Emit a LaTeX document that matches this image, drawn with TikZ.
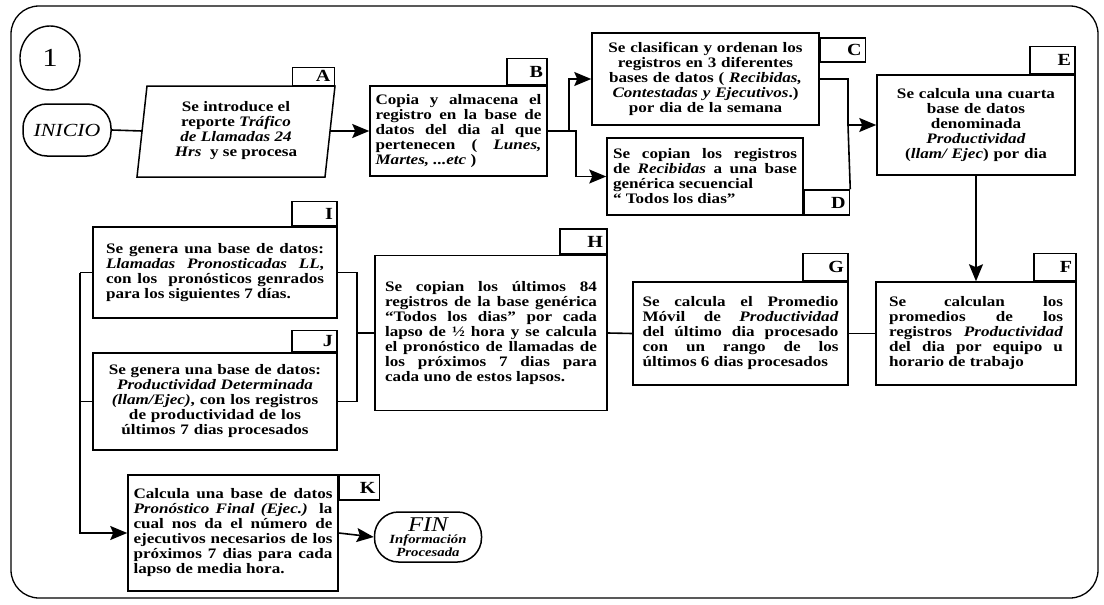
\documentclass[tikz,border=0pt]{standalone}
\usepackage{fontspec}
\setmainfont{Liberation Serif}[FakeStretch=1.18]
\usetikzlibrary{arrows.meta,shapes.geometric}
% one fully justified line of a box text (font glue, so the spaces can stretch)
\newcommand{\jl}[1]{\makebox[\linewidth][s]{\spaceskip=0pt\xspaceskip=0pt #1}}
\newcommand{\boxfont}{\bfseries\fontsize{14.5}{15}\selectfont}
\newcommand{\labfont}{\bfseries\fontsize{17}{17}\selectfont}

\begin{document}
\begin{tikzpicture}[x=1pt,y=-1pt,
  every node/.style={inner sep=0pt},
  box/.style={draw, line width=1.5pt, inner sep=0pt, font=\boxfont, align=justify},
  cbox/.style={box, align=center},
  lab/.style={draw, line width=1.5pt, inner xsep=4pt, inner ysep=0pt, font=\labfont, align=right},
  conn/.style={line width=1.6pt},
  arr/.style={conn, -{Stealth[length=17pt,width=14pt,inset=3pt]}},
  term/.style={draw, line width=1.5pt, rounded corners=24pt},
]
\useasboundingbox (0,0) rectangle (1104,605);

% outer frame
\draw[line width=1.3pt, rounded corners=28pt] (11,6) rectangle (1098,598);

% page connector and start
\node[draw, ellipse, line width=1.4pt, minimum width=60pt, minimum height=64pt,
      font=\fontsize{26}{26}\selectfont] (one) at (50,58) {1};
\node[term, minimum width=88pt, minimum height=52pt,
      font=\itshape\fontsize{18.5}{18.5}\selectfont] (start) at (67,130) {INICIO};

% A: input parallelogram
\coordinate (A1) at (137,177);
\coordinate (A2) at (325,177);
\coordinate (A3) at (335,86);
\coordinate (A4) at (147,86);
\coordinate (Aw) at (142,131);
\coordinate (Ae) at (330,131);
\draw[line width=1.5pt] (A1) -- (A2) -- (A3) -- (A4) -- cycle;
\node[font=\boxfont, align=center] (A) at (236,131)
  {Se introduce el\\ reporte \textit{Tráfico}\\ \textit{de Llamadas 24}\\ \textit{Hrs}~ y se procesa};
\node[lab, text width=34pt, minimum height=18pt, anchor=south east] (Alab) at (A3) {A};

% B
\node[box, minimum width=177pt, minimum height=90pt, text width=166pt] (B) at (458.5,131)
  {\jl{Copia y almacena el}\\
   \jl{registro en la base de}\\
   \jl{datos del dia al que}\\
   \jl{pertenecen ( \textit{Lunes,}}\\
   \textit{Martes, ...etc} )};
\node[lab, text width=32pt, minimum height=26pt, anchor=south east] (Blab) at (B.north east) {B};

% C
\node[cbox, minimum width=227pt, minimum height=92pt, text width=222pt] (C) at (705.5,79)
  {Se clasifican y ordenan los\\ registros en 3 diferentes\\ bases de datos ( \textit{Recibidas,}\\
   \textit{Contestadas y Ejecutivos}.)\\ por dia de la semana};
\node[lab, text width=37pt, minimum height=24pt, anchor=north west, yshift=-5pt] (Clab) at (C.north east) {C};

% D
\node[box, minimum width=196pt, minimum height=77pt, text width=184pt] (D) at (705,176.5)
  {\jl{Se copian los registros}\\
   \jl{de \textit{Recibidas} a una base}\\
   genérica secuencial\\
   “ Todos los dias”};
\node[lab, text width=37pt, minimum height=25pt, anchor=south west] (Dlab) at (D.south east) {D};

% E
\node[cbox, minimum width=198pt, minimum height=100pt, text width=190pt] (E) at (976,125)
  {Se calcula una cuarta\\ base de datos\\ denominada\\ \textit{Productividad}\\ (\textit{llam/ Ejec}) por dia};
\node[lab, text width=37pt, minimum height=27pt, anchor=south east] (Elab) at (E.north east) {E};

% F
\node[box, minimum width=200pt, minimum height=103pt, text width=174pt] (F) at (976,333.5)
  {\jl{Se calculan los}\\
   \jl{promedios de los}\\
   \jl{registros \textit{Productividad}}\\
   \jl{del dia por equipo u}\\
   horario de trabajo};
\node[lab, text width=34pt, minimum height=27pt, anchor=south east] (Flab) at (F.north east) {F};

% G
\node[box, minimum width=215pt, minimum height=103pt, text width=196pt] (G) at (740.5,333.5)
  {\jl{Se calcula el Promedio}\\
   \jl{Móvil de \textit{Productividad}}\\
   \jl{del último dia procesado}\\
   \jl{con un rango de los}\\
   últimos 6 dias procesados};
\node[lab, text width=37pt, minimum height=27pt, anchor=south east] (Glab) at (G.north east) {G};

% H
\node[box, minimum width=232pt, minimum height=155pt, text width=212pt] (H) at (491,333)
  {\jl{Se copian los últimos 84}\\
   \jl{registros de la base genérica}\\
   \jl{“Todos los dias” por cada}\\
   \jl{lapso de ½ hora y se calcula}\\
   \jl{el pronóstico de llamadas de}\\
   \jl{los próximos 7 dias para}\\
   cada uno de estos lapsos.};
\node[lab, text width=39pt, minimum height=25pt, anchor=south east] (Hlab) at (H.north east) {H};

% I
\node[box, minimum width=244pt, minimum height=91pt, text width=218pt] (I) at (215,272.5)
  {\jl{Se genera una base de datos:}\\
   \jl{\textit{Llamadas Pronosticadas LL},}\\
   \jl{con los~ pronósticos genrados}\\
   para los siguientes 7 días.};
\node[lab, text width=37pt, minimum height=24pt, anchor=south east] (Ilab) at (I.north east) {I};

% J
\node[cbox, minimum width=244pt, minimum height=97pt, text width=232pt] (J) at (215,401.5)
  {Se genera una base de datos:\\ \textit{Productividad Determinada}\\
   \textit{(llam/Ejec)}, con los registros\\ de productividad de los\\ últimos 7 dias procesados};
\node[lab, text width=37pt, minimum height=21pt, anchor=south east] (Jlab) at (J.north east) {J};

% K
\node[box, minimum width=210pt, minimum height=116pt, text width=199pt] (K) at (233,533)
  {\jl{Calcula una base de datos}\\
   \jl{\textit{Pronóstico Final (Ejec.)} la}\\
   \jl{cual nos da el número de}\\
   \jl{ejecutivos necesarios de los}\\
   \jl{próximos 7 dias para cada}\\
   lapso de media hora.};
\node[lab, text width=32pt, minimum height=25pt, anchor=north west] (Klab) at (K.north east) {K};

% end terminal
\node[term, minimum width=107pt, minimum height=50pt, align=center,
      font=\bfseries\itshape\fontsize{12.5}{12.5}\selectfont] (fin) at (428,537)
  {{\mdseries\fontsize{21}{21}\selectfont FIN}\\ Información\\ Procesada};

% connectors
\draw[conn] (start.east) -- (Aw);
\draw[arr] (Ae) -- (B.west);
\coordinate (fork1) at (569,131);
\draw[conn] (B.east) -- (fork1);
\draw[arr] (fork1) |- (C.west);
\draw[arr] (fork1) -- ++(7,0) |- (D.west);
\coordinate (jn) at (848,125);
\draw[conn] (C.east) -| (jn);
\draw[conn] (Dlab.north east) -- (jn);
\draw[arr] (jn) -- (E.west);
\draw[arr] (E.south) -- (F.north);
\draw[conn] (F.west) -- (G.east);
\draw[conn] (G.west) -- (H.east);
\coordinate (fork2) at (357,333);
\draw[conn] (H.west) -- (fork2);
\draw[conn] (I.east) -| (fork2);
\draw[conn] (J.east) -| (fork2);
\coordinate (bus) at (80,272.5);
\draw[conn] (I.west) -- (bus);
\draw[conn] (J.west) -- (J.west -| bus);
\draw[arr] (bus) |- (K.west);
\draw[arr] (K.east) -- (fin.west);
\end{tikzpicture}
\end{document}
